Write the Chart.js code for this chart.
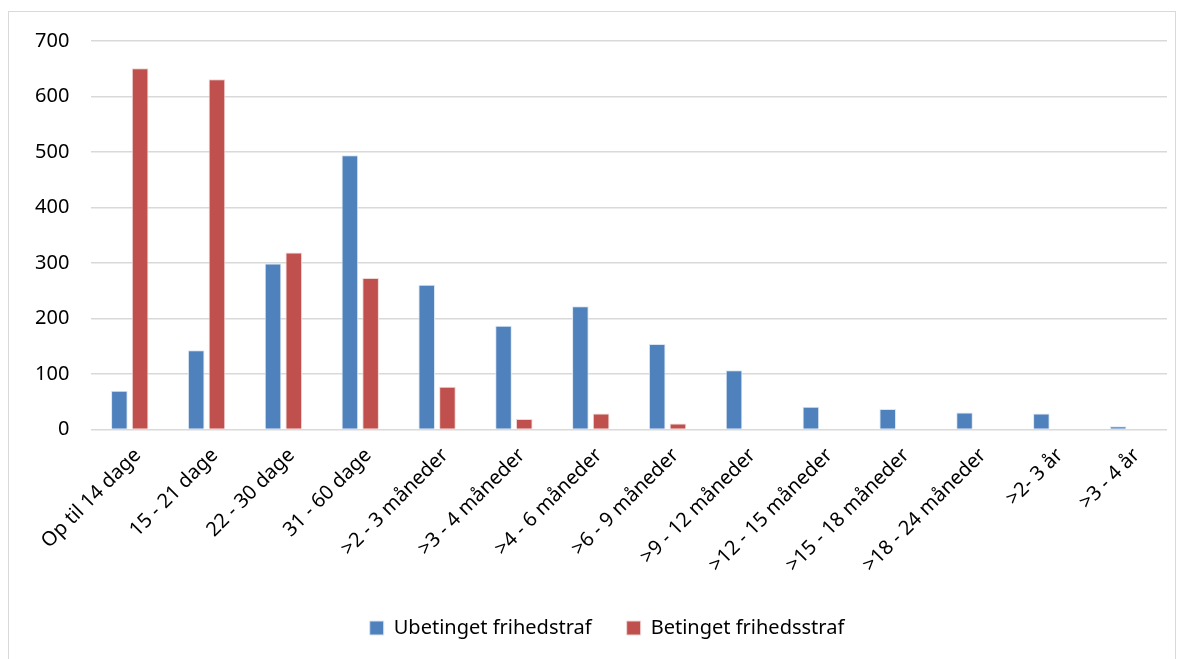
<!DOCTYPE html>
<html>
<head>
<meta charset="utf-8">
<script src="https://cdn.jsdelivr.net/npm/chart.js@4"></script>
<style>
  html, body { margin: 0; padding: 0; background: #fff; overflow: hidden; }
  #frame {
    position: absolute; left: 8px; top: 11px; width: 1168px; height: 700px;
    border: 1px solid #d9d9d9; box-sizing: border-box;
  }
  #wrap { position: absolute; left: 9px; top: 7px; width: 1166px; height: 647px; }
</style>
</head>
<body>
<div id="frame"></div>
<div id="wrap"><canvas id="chart"></canvas></div>
<script>
const categories = [
  'Op til 14 dage', '15 - 21 dage', '22 - 30 dage', '31 - 60 dage',
  '>2 - 3 måneder', '>3 - 4 måneder', '>4 - 6 måneder', '>6 - 9 måneder',
  '>9 - 12 måneder', '>12 - 15 måneder', '>15 - 18 måneder', '>18 - 24 måneder',
  '>2- 3 år', '>3 - 4 år'
];
const ubetinget = [70, 143, 299, 494, 261, 187, 222, 154, 107, 41, 37, 31, 29, 6];
const betinget = [651, 631, 319, 273, 77, 19, 29, 11, 0, 0, 0, 0, 0, 0];
const yTicks = [0, 100, 200, 300, 400, 500, 600, 700];

const font = { family: 'Noto Sans', size: 20 };

// nudge the legend a bit right, like in the original
const legendShift = {
  id: 'legendShift',
  afterLayout(chart) {
    if (chart.legend) chart.legend.left += 34;
  }
};

new Chart(document.getElementById('chart'), {
  type: 'bar',
  data: {
    labels: categories,
    datasets: [
      {
        label: 'Ubetinget frihedstraf',
        data: ubetinget,
        backgroundColor: '#4F81BD',
        borderColor: '#dbe6f3',
        borderWidth: 1,
        categoryPercentage: 0.54,
        barPercentage: 0.8
      },
      {
        label: 'Betinget frihedsstraf',
        data: betinget,
        backgroundColor: '#C0504D',
        borderColor: '#f0d6d5',
        borderWidth: 1,
        categoryPercentage: 0.54,
        barPercentage: 0.8
      }
    ]
  },
  options: {
    responsive: true,
    maintainAspectRatio: false,
    animation: false,
    layout: { padding: { left: 4, right: 8, top: 3, bottom: 6 } },
    plugins: {
      title: { display: false },
      tooltip: { enabled: false },
      legend: {
        position: 'bottom',
        labels: {
          font: font,
          color: '#000',
          boxWidth: 14,
          boxHeight: 14,
          padding: 35
        }
      }
    },
    scales: {
      x: {
        grid: { display: false },
        border: { display: false },
        ticks: {
          font: font,
          color: '#000',
          minRotation: 45,
          maxRotation: 45,
          autoSkip: false,
          padding: 6,
          labelOffset: 8
        }
      },
      y: {
        min: 0,
        max: 700,
        afterBuildTicks: (axis) => { axis.ticks = yTicks.map(v => ({ value: v })); },
        grid: { color: '#d9d9d9', lineWidth: 1.5, drawTicks: false },
        border: { display: false },
        ticks: { font: font, color: '#000', padding: 22 }
      }
    }
  },
  plugins: [legendShift]
});
</script>
</body>
</html>
